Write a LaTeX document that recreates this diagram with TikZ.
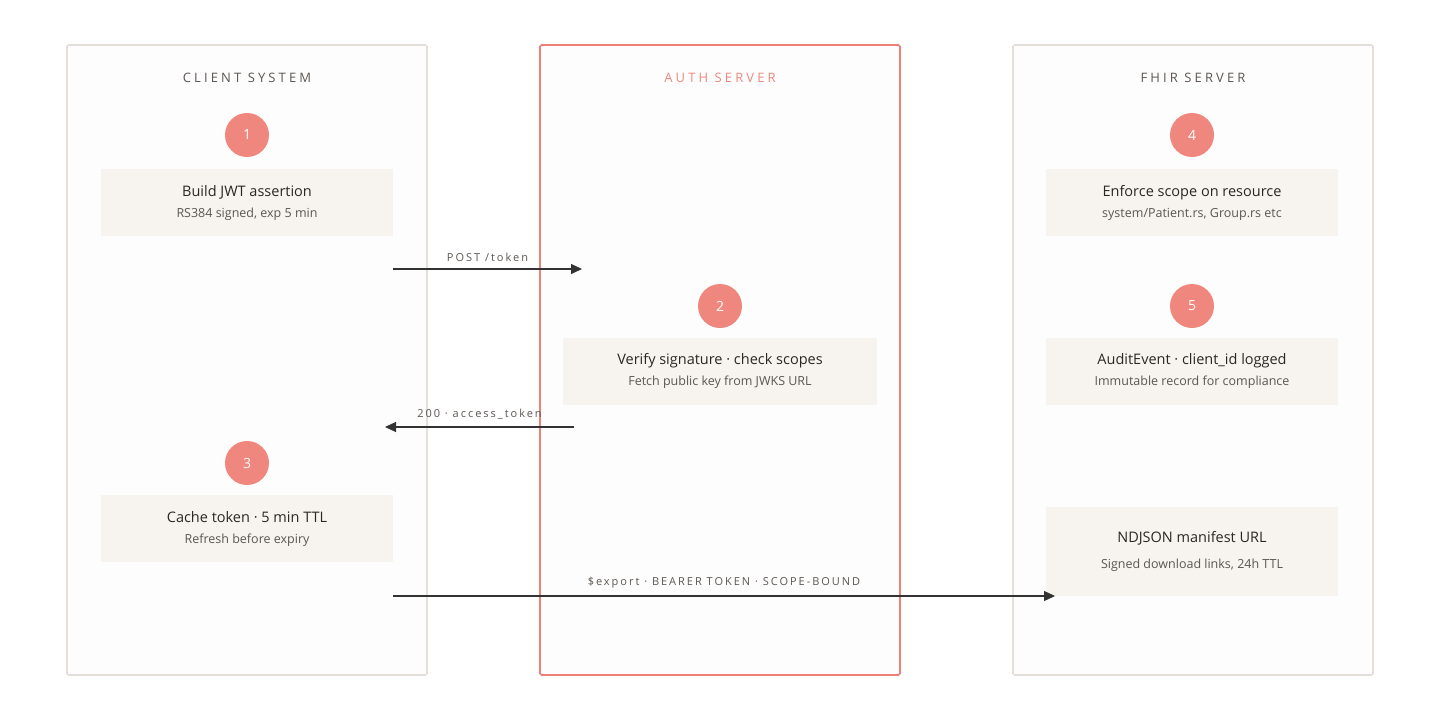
\documentclass[tikz,border=0pt]{standalone}
\usepackage{xcolor}
\usepackage{fontspec}
\setmainfont{Open Sans}
\newfontfamily\lanefont[LetterSpace=24]{Open Sans}
\newfontfamily\flowfont[LetterSpace=18]{Open Sans}
\usetikzlibrary{arrows.meta}

\definecolor{lanegray}{HTML}{E4DFD8}
\definecolor{lanefill}{HTML}{FEFDFD}
\definecolor{authred}{HTML}{EF7F77}
\definecolor{badgered}{HTML}{F0877E}
\definecolor{boxfill}{HTML}{F7F3EE}
\definecolor{ink}{HTML}{2B2725}
\definecolor{notegray}{HTML}{5B5652}
\definecolor{flowink}{HTML}{333333}

\newcommand{\stepnote}[1]{{\fontsize{12.5}{14}\selectfont\color{notegray}#1}}

\begin{document}
\begin{tikzpicture}[
	x=1pt, y=-1pt,
	lane/.style = {draw=lanegray, line width=1.6pt, fill=lanefill,
		rounded corners=1.5pt, minimum width=360pt, minimum height=630pt},
	authlane/.style = {lane, draw=authred},
	lanetitle/.style = {font=\lanefont\fontsize{13}{15}\selectfont, text=notegray},
	badge/.style = {shape=circle, fill=badgered, minimum size=44pt, inner sep=0pt,
		text=white, font=\fontsize{14}{14}\selectfont},
	stepbox/.style = {shape=rectangle, fill=boxfill, align=center, text=ink,
		minimum width=292pt, minimum height=67pt, inner sep=0pt,
		font=\fontsize{14.5}{21}\selectfont},
	flow/.style = {draw=flowink, line width=1.1pt,
		-{Triangle[length=11pt,width=10pt]}},
	flowlabel/.style = {above, inner sep=0pt, yshift=7pt, text=notegray,
		font=\flowfont\fontsize{11}{13}\selectfont}]
	\useasboundingbox[fill=white] (0,0) rectangle (1440,720);

	% swim lanes
	\node[lane] (client) at (247,360) {};
	\node[authlane] (auth) at (720,360) {};
	\node[lane] (fhir) at (1193,360) {};

	\node[lanetitle] (clienttitle) at (247,78) {CLIENT SYSTEM};
	\node[lanetitle, text=badgered] (authtitle) at (720,78) {AUTH SERVER};
	\node[lanetitle] (fhirtitle) at (1193,78) {FHIR SERVER};

	% steps
	\node[badge] (one) at (247,135) {1};
	\node[stepbox] (build) at (247,202.5) {Build JWT assertion\\ \stepnote{RS384 signed, exp 5 min}};

	\node[badge] (two) at (720,306) {2};
	\node[stepbox, minimum width=314pt] (verify) at (720,371) {Verify signature · check scopes\\ \stepnote{Fetch public key from JWKS URL}};

	\node[badge] (three) at (247,463) {3};
	\node[stepbox] (cache) at (247,528.5) {Cache token · 5 min TTL\\ \stepnote{Refresh before expiry}};

	\node[badge] (four) at (1192,135) {4};
	\node[stepbox] (enforce) at (1192,202.5) {Enforce scope on resource\\ \stepnote{system/Patient.rs, Group.rs etc}};

	\node[badge] (five) at (1192,306) {5};
	\node[stepbox] (audit) at (1192,371) {AuditEvent · client\_id logged\\ \stepnote{Immutable record for compliance}};

	\node[stepbox, minimum height=89pt] (manifest) at (1192,551.5) {NDJSON manifest URL\\[5pt] \stepnote{Signed download links, 24h TTL}};

	% messages
	\coordinate (post from) at (393,269);
	\coordinate (post to) at (582,269);
	\draw[flow] (post from) -- node[flowlabel] {POST /token} (post to);

	\coordinate (token from) at (574,427);
	\coordinate (token to) at (385,427);
	\draw[flow] (token from) -- node[flowlabel] {200 · access\_token} (token to);

	\coordinate (export from) at (393,596);
	\coordinate (export to) at (1055,596);
	\draw[flow] (export from) -- node[flowlabel] {\$export · BEARER TOKEN · SCOPE-BOUND} (export to);
\end{tikzpicture}
\end{document}
